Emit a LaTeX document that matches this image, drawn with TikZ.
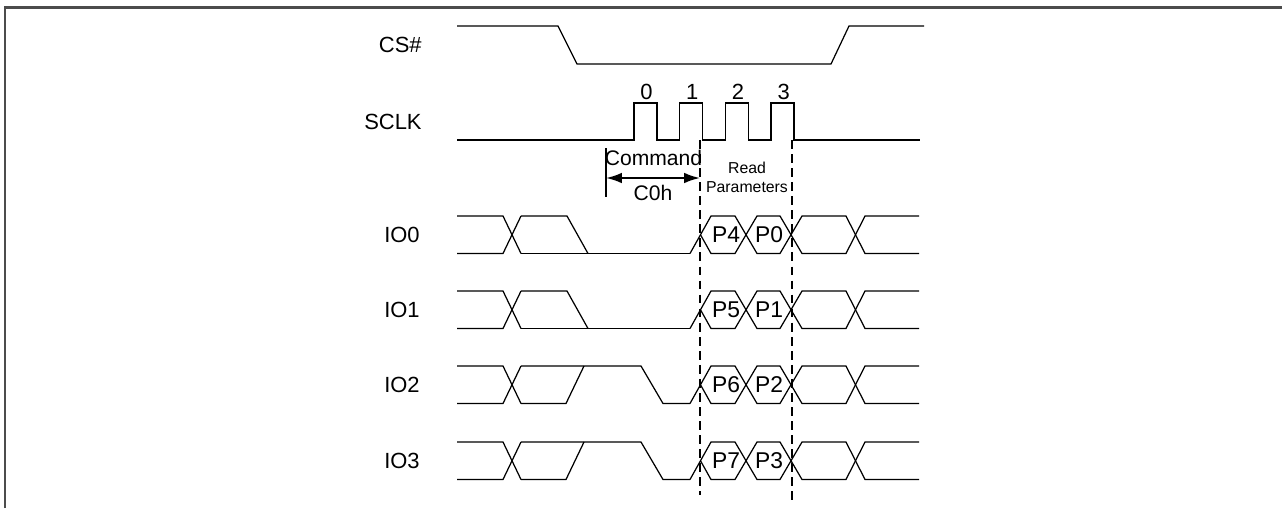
\documentclass[tikz,border=0pt]{standalone}
\usepackage{fontspec}
\setmainfont{Liberation Sans}
\usetikzlibrary{arrows.meta, positioning, calc}

\begin{document}
\begin{tikzpicture}[
        x=0.02cm, y=-0.02cm,
        sig/.style={line width=0.7pt, line join=miter},
        signame/.style={anchor=east, inner sep=0pt, font=\fontsize{12.5}{15}\selectfont},
        bitno/.style={inner sep=0pt, font=\fontsize{12.5}{15}\selectfont},
        datalbl/.style={inner sep=0pt, font=\fontsize{12}{14}\selectfont},
        bytelbl/.style={inner sep=0pt, font=\fontsize{13}{15}\selectfont},
        smalllbl/.style={inner sep=0pt, font=\fontsize{9}{11}\selectfont},
        guide/.style={line width=0.7pt, dash pattern=on 5pt off 3pt},
        arrow/.style={{Latex[length=9pt,width=6pt]}-{Latex[length=9pt,width=6pt]}, line width=1.1pt}
    ]
    \useasboundingbox (0,0) rectangle (1282,508);
    % frame
    \draw[black!70, line width=1.5pt] (5,508) -- (5,7.5) -- (1282,7.5);

    % CS#
    \node (cs) [signame] at (422,45) {CS\#};
    \draw[sig] (457,26) -- (558,26) -- (577,64) -- (831,64) -- (849,26) -- (924,26);

    % SCLK
    \node (sclk) [signame] at (422,122) {SCLK};
    \draw[sig] (457,140) foreach \x in {634,679.7,725.4,771.1} { -- (\x,140) -- (\x,103) -- (\x+23,103) -- (\x+23,140) } -- (920,140);
    \foreach \n/\x in {0/634,1/679.7,2/725.4,3/771.1}
        \node (bit\n) [bitno] at (\x+12.5,92) {\n};

    % Command / Read Parameters
    \coordinate (cmdL) at (606,178);
    \coordinate (cmdR) at (700,178);
    \draw[sig] (606,148) -- (606,197);
    \draw[arrow] (cmdL) -- (cmdR);
    \node (cmd) [datalbl, anchor=west] at (604.5,158) {Command};
    \node (c0h) [datalbl] at (653,193) {C0h};
    \node (rd) [smalllbl] at (747,168) {Read};
    \node (par) [smalllbl] at (747,187) {Parameters};

    % IO lines
    \foreach \n/\t in {0/216,1/291,2/366,3/442} {
        \pgfmathsetmacro{\b}{\t+37.5}
        \pgfmathsetmacro{\m}{\t+18.75}
        \pgfmathtruncatemacro{\hi}{\n+4}
        \node (io\n) [signame] at (420,\m) {IO\n};
        % leading don't care
        \draw[sig] (457,\t) -- (503,\t) -- (521,\b);
        \draw[sig] (457,\b) -- (503,\b) -- (521,\t);
        % read data
        \draw[sig] (690,\b) -- (711,\t) -- (735,\t) -- (757,\b) -- (780,\b) -- (802,\t) -- (846,\t) -- (865,\b) -- (919,\b);
        \draw[sig] (700.5,\m) -- (711,\b) -- (735,\b) -- (757,\t) -- (780,\t) -- (802,\b) -- (846,\b) -- (865,\t) -- (919,\t);
        \node (hi\n) [bytelbl] at (726,\m) {P\hi};
        \node (lo\n) [bytelbl] at (769,\m) {P\n};
    }
    % IO0, IO1 go low
    \foreach \t in {216,291} {
        \draw[sig] (521,\t) -- (567,\t) -- (588,\t+37.5);
        \draw[sig] (521,\t+37.5) -- (690,\t+37.5);
    }
    % IO2, IO3 go high, then low
    \foreach \t in {366,442} {
        \draw[sig] (521,\t+37.5) -- (566,\t+37.5) -- (584,\t);
        \draw[sig] (521,\t) -- (641,\t) -- (663,\t+37.5) -- (690,\t+37.5);
    }

    % guides
    \coordinate (g1top) at (700,140);
    \coordinate (g1bot) at (700,495);
    \coordinate (g2top) at (792,140);
    \coordinate (g2bot) at (792,500);
    \draw[guide] (g1top) -- (g1bot);
    \draw[guide] (g2top) -- (g2bot);

\end{tikzpicture}
\end{document}
